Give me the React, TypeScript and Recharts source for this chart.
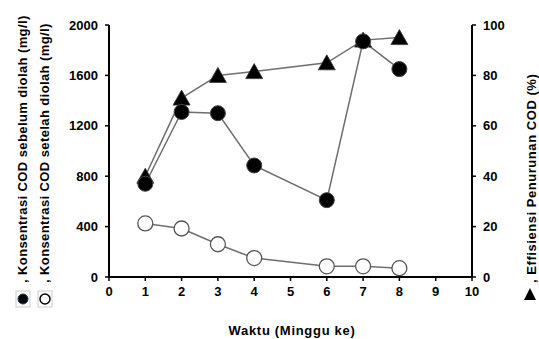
import { ComposedChart, Line, XAxis, YAxis } from "recharts";

const weeks = [1, 2, 3, 4, 6, 7, 8];
const codBefore = [740, 1310, 1300, 885, 610, 1870, 1650];
const codAfter = [425, 385, 260, 150, 85, 85, 70];
const efficiency = [40, 71, 80, 81.5, 85, 94, 95];

const xTicks = [0, 1, 2, 3, 4, 5, 6, 7, 8, 9, 10];
const leftTicks = [0, 400, 800, 1200, 1600, 2000];
const rightTicks = [0, 20, 40, 60, 80, 100];

const data = weeks.map((w, i) => ({
  week: w,
  before: codBefore[i],
  after: codAfter[i],
  eff: efficiency[i],
}));

const FONT = "'Liberation Sans', Arial, sans-serif";
const LINE = "#6e6e6e";
const tickStyle = { fill: "#000", fontSize: 13, fontWeight: 700, fontFamily: FONT };

const Triangle = (props: any) => {
  const { cx, cy } = props;
  if (cx == null || cy == null) return null;
  return (
    <path
      key={`t-${cx}`}
      d={`M${cx},${cy - 8} L${cx + 8.5},${cy + 7} L${cx - 8.5},${cy + 7} Z`}
      fill="#000"
      stroke="#333"
      strokeWidth={0.8}
    />
  );
};

export default function App() {
  return (
    <div style={{ position: "absolute", left: 0, top: 0, width: 539, height: 339, background: "#fff" }}>
      <ComposedChart
        width={539}
        height={339}
        data={data}
        margin={{ top: 25, right: 0, bottom: 0, left: 0 }}
      >
        <XAxis
          dataKey="week"
          type="number"
          domain={[0, 10]}
          ticks={xTicks}
          height={62}
          axisLine={{ stroke: "#000", strokeWidth: 2 }}
          tickLine={{ stroke: "#000", strokeWidth: 1.5 }}
          tickSize={4}
          tick={tickStyle}
          tickMargin={6}
        />
        <YAxis
          yAxisId="left"
          domain={[0, 2000]}
          ticks={leftTicks}
          width={109}
          axisLine={{ stroke: "#000", strokeWidth: 2 }}
          tickLine={{ stroke: "#000", strokeWidth: 1.5 }}
          tickSize={4}
          tick={tickStyle}
          tickMargin={7}
        />
        <YAxis
          yAxisId="right"
          orientation="right"
          domain={[0, 100]}
          ticks={rightTicks}
          width={67}
          axisLine={{ stroke: "#000", strokeWidth: 2 }}
          tickLine={{ stroke: "#000", strokeWidth: 1.5 }}
          tickSize={4}
          tick={tickStyle}
          tickMargin={7}
        />
        <Line
          yAxisId="right"
          dataKey="eff"
          type="linear"
          stroke={LINE}
          strokeWidth={1.5}
          dot={<Triangle />}
          activeDot={false}
          isAnimationActive={false}
        />
        <Line
          yAxisId="left"
          dataKey="before"
          type="linear"
          stroke={LINE}
          strokeWidth={1.5}
          dot={{ r: 7.5, fill: "#000", stroke: "#444", strokeWidth: 1 }}
          activeDot={false}
          isAnimationActive={false}
        />
        <Line
          yAxisId="left"
          dataKey="after"
          type="linear"
          stroke={LINE}
          strokeWidth={1.5}
          dot={{ r: 7.5, fill: "#fff", stroke: "#555", strokeWidth: 1.3 }}
          activeDot={false}
          isAnimationActive={false}
        />
      </ComposedChart>
      <svg
        width={539}
        height={339}
        style={{ position: "absolute", left: 0, top: 0, pointerEvents: "none" }}
        fontFamily={FONT}
        fontWeight={700}
        fontSize={13}
      >
        <text transform="translate(27,283) rotate(-90)" letterSpacing={0.4}>
          , Konsentrasi COD sebelum diolah (mg/l)
        </text>
        <text transform="translate(49,283) rotate(-90)" letterSpacing={0.4}>
          , Konsentrasi COD setelah diolah (mg/l)
        </text>
        <rect x={16} y={291} width={14} height={16} fill="#fff" stroke="#ccc" />
        <circle cx={23} cy={299} r={5} fill="#000" stroke="#1a3a6a" strokeWidth={1} />
        <rect x={38} y={291} width={14} height={16} fill="#fff" stroke="#ccc" />
        <circle cx={45} cy={299} r={5} fill="#fff" stroke="#000" strokeWidth={1.5} />
        <text transform="translate(536,283) rotate(-90)" letterSpacing={0.55}>
          , Effisiensi Penurunan COD (%)
        </text>
        <path d="M524,300 L530,288 L536,300 Z" fill="#000" />
        <text x={292} y={335} textAnchor="middle" letterSpacing={0.7}>
          Waktu (Minggu ke)
        </text>
      </svg>
    </div>
  );
}
